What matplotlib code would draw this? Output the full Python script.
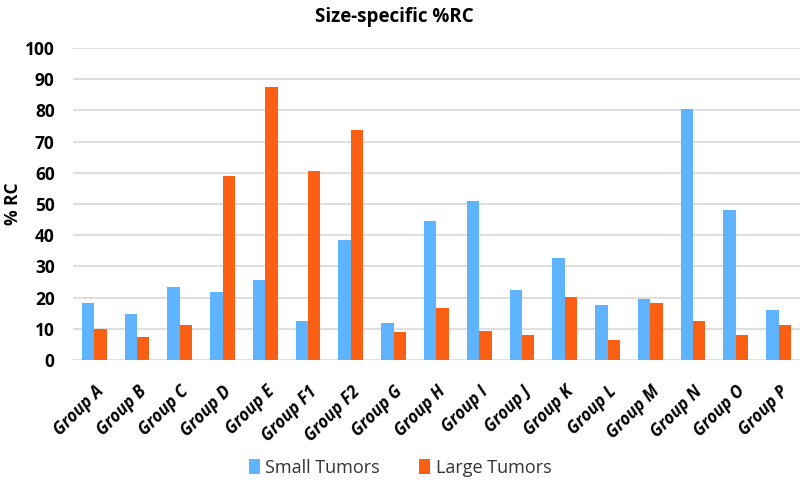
import matplotlib
matplotlib.use("Agg")
import matplotlib.pyplot as plt
import numpy as np

categories = ["Group A", "Group B", "Group C", "Group D", "Group E", "Group F1", "Group F2",
              "Group G", "Group H", "Group I", "Group J", "Group K", "Group L", "Group M",
              "Group N", "Group O", "Group P"]
small_tumors = [18.2, 14.7, 23.4, 21.9, 25.8, 12.6, 38.4, 11.9, 44.7, 51.1, 22.5, 32.8,
                17.5, 19.6, 80.4, 48.1, 16.1]
large_tumors = [9.9, 7.3, 11.1, 59.0, 87.6, 60.6, 73.8, 8.9, 16.6, 9.4, 8.0, 20.2,
                6.4, 18.2, 12.5, 8.0, 11.2]
yticks = list(range(0, 101, 10))

plt.rcParams['font.family'] = ['Open Sans', 'DejaVu Sans']

fig = plt.figure(figsize=(8, 4.84), dpi=100)
ax = fig.add_axes([0.091, 0.256, 0.909, 0.645])

x = np.arange(len(categories))
w = 0.29
ax.bar(x - w / 2, small_tumors, w, color="#5EB4FF", label="Small Tumors", zorder=3)
ax.bar(x + w / 2, large_tumors, w, color="#FA5F14", label="Large Tumors", zorder=3)

ax.set_xlim(-0.5, len(categories) - 0.5)
ax.set_ylim(0, 100)
ax.set_yticks(yticks)
ax.set_yticklabels([str(t) for t in yticks], fontsize=12.5, fontweight='bold')
ax.yaxis.grid(True, color="#D9D9D9", linewidth=1.2, zorder=0)
ax.set_axisbelow(True)
for s in ax.spines.values():
    s.set_visible(False)
ax.tick_params(axis='both', length=0)
ax.tick_params(axis='y', pad=13)

ax.set_xticks(x)
ax.set_xticklabels(categories, rotation=45, ha='right', rotation_mode='anchor',
                   fontsize=12, fontweight='bold', fontstyle='italic')
ax.tick_params(axis='x', pad=16)

ax.set_ylabel("% RC", fontsize=12.5, fontweight='bold', labelpad=2)
fig.text(0.493, 0.985, "Size-specific %RC", ha='center', va='top', fontsize=13.5, fontweight='bold')

leg = fig.legend(loc='center', bbox_to_anchor=(0.5, 0.033), ncol=2, frameon=False,
                 fontsize=13, handlelength=0.6, handleheight=0.9, columnspacing=2.2,
                 handletextpad=0.3)
for t in leg.get_texts():
    t.set_color("#333333")

fig.savefig("out.png", dpi=100)
